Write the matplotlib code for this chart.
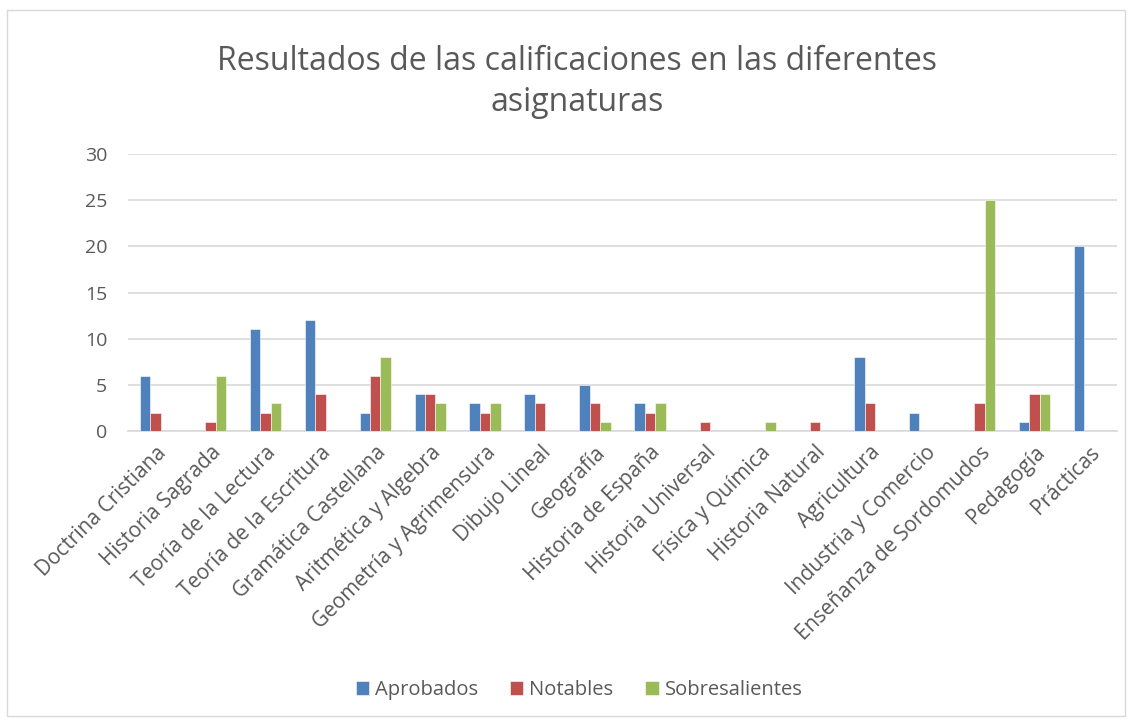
import matplotlib
matplotlib.use('Agg')
import matplotlib.pyplot as plt
import numpy as np

plt.rcParams['font.family'] = ['Open Sans', 'DejaVu Sans']

asignaturas = ['Doctrina Cristiana', 'Historia Sagrada', 'Teoría de la Lectura',
               'Teoría de la Escritura', 'Gramática Castellana', 'Aritmética y Algebra',
               'Geometría y Agrimensura', 'Dibujo Lineal', 'Geografía', 'Historia de España',
               'Historia Universal', 'Física y Química', 'Historia Natural', 'Agricultura',
               'Industria y Comercio', 'Enseñanza de Sordomudos', 'Pedagogía', 'Prácticas']
aprobados = [6, 0, 11, 12, 2, 4, 3, 4, 5, 3, 0, 0, 0, 8, 2, 0, 1, 20]
notables = [2, 1, 2, 4, 6, 4, 2, 3, 3, 2, 1, 0, 1, 3, 0, 3, 4, 0]
sobresalientes = [0, 6, 3, 0, 8, 3, 3, 0, 1, 3, 0, 1, 0, 0, 0, 25, 4, 0]
series = [('Aprobados', aprobados, '#4F81BD'),
          ('Notables', notables, '#C0504D'),
          ('Sobresalientes', sobresalientes, '#9BBB59')]

fig = plt.figure(figsize=(11.34, 7.24), dpi=100)
ax = fig.add_axes([128/1134, 1-431/724, (1117-128)/1134, (431-154)/724])

# outer chart border
fig.patches.append(plt.Rectangle((7/1134, 8/724), 1118/1134, 706/724, transform=fig.transFigure,
                                 fill=False, edgecolor='#D9D9D9', linewidth=1))

x = np.arange(len(asignaturas))
w = 0.19
for i, (name, vals, col) in enumerate(series):
    ax.bar(x + (i - 1) * w, vals, w, color=col, edgecolor='white', linewidth=0.4, label=name, zorder=3)

ax.set_xlim(-0.5, len(asignaturas) - 0.5)
ax.set_ylim(0, 30)
ax.set_yticks(range(0, 31, 5))
ax.yaxis.grid(True, color='#D9D9D9', linewidth=1.2, zorder=0)
for s in ['top', 'right', 'left']:
    ax.spines[s].set_visible(False)
ax.spines['bottom'].set_color('#D9D9D9')
ax.spines['bottom'].set_linewidth(1.2)
ax.tick_params(axis='both', length=0, labelcolor='#595959', labelsize=14)
ax.tick_params(axis='y', pad=15)
ax.set_xticks(x)
ax.set_xticklabels(asignaturas, rotation=45, ha='right', rotation_mode='anchor')
ax.tick_params(axis='x', pad=8, labelsize=15)

fig.text(577/1134, 1-82/724, 'Resultados de las calificaciones en las diferentes\nasignaturas',
         ha='center', va='center', fontsize=23, color='#595959', linespacing=1.3)

fig.legend(loc='center', bbox_to_anchor=(579/1134, 1-690/724), ncol=3, frameon=False,
           fontsize=14.5, labelcolor='#595959', handlelength=0.65, handleheight=0.65,
           handletextpad=0.3, columnspacing=1.6)

fig.savefig('out.png', dpi=100)
